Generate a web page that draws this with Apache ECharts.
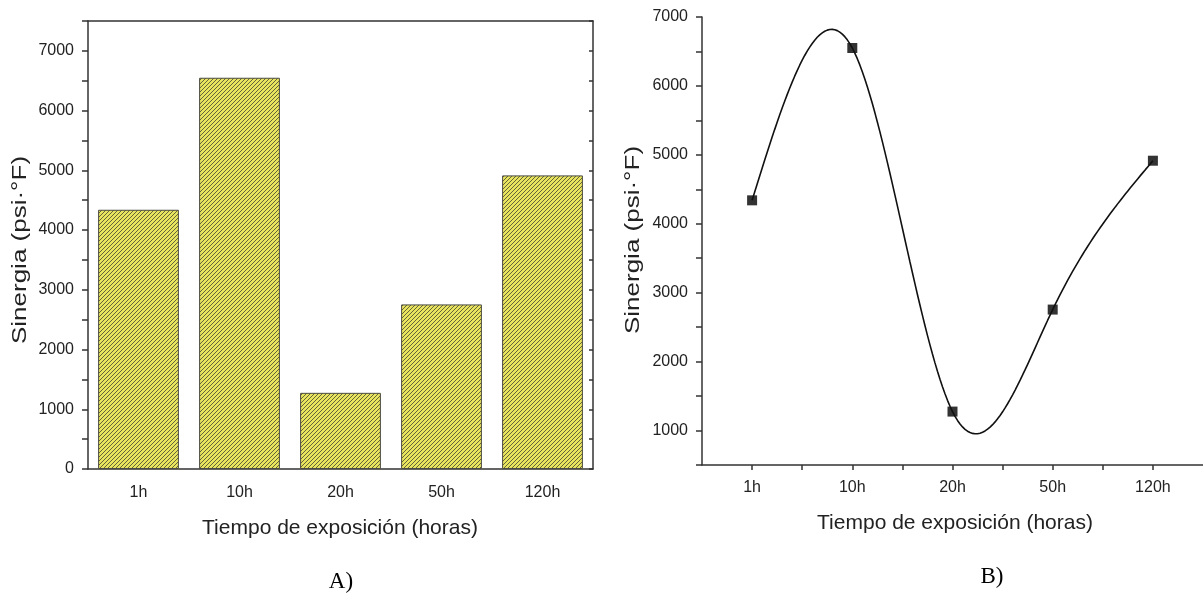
<!DOCTYPE html>
<html>
<head>
<meta charset="utf-8">
<script src="https://cdn.jsdelivr.net/npm/echarts@6/dist/echarts.min.js"></script>
<style>
  html, body { margin: 0; padding: 0; background: #fff; }
  #chart { width: 1203px; height: 597px; }
</style>
</head>
<body>
<div id="chart"></div>
<script>
// ---- data ----
const categories = ['1h', '10h', '20h', '50h', '120h'];
const sinergia = [4340, 6550, 1275, 2755, 4915];
const yTickLabelsA = [0, 1000, 2000, 3000, 4000, 5000, 6000, 7000];
const yTickLabelsB = [1000, 2000, 3000, 4000, 5000, 6000, 7000];
const yTitle = 'Sinergia (psi·°F)';
const xTitle = 'Tiempo de exposición (horas)';
const panelLabels = ['A)', 'B)'];

// ---- hatch pattern for bars ----
function hatch() {
  const s = 4;
  const c = document.createElement('canvas');
  c.width = s; c.height = s;
  const g = c.getContext('2d');
  g.fillStyle = '#e9e45e';
  g.fillRect(0, 0, s, s);
  g.strokeStyle = '#5e5c36';
  g.lineWidth = 0.95;
  g.beginPath();
  g.moveTo(-1, s + 1); g.lineTo(s + 1, -1);
  g.moveTo(-1, 1); g.lineTo(1, -1);
  g.moveTo(s - 1, s + 1); g.lineTo(s + 1, s - 1);
  g.stroke();
  return c;
}

// ---- natural cubic spline through the data (x = 1..n) ----
function naturalSpline(ys, steps) {
  const n = ys.length;
  const M = new Array(n).fill(0);
  const a = [], b = [], cc = [], d = [];
  for (let i = 1; i < n - 1; i++) {
    a.push(1); b.push(4); cc.push(1);
    d.push(6 * (ys[i + 1] - 2 * ys[i] + ys[i - 1]));
  }
  const m = d.length;
  for (let i = 1; i < m; i++) {
    const w = a[i] / b[i - 1];
    b[i] -= w * cc[i - 1];
    d[i] -= w * d[i - 1];
  }
  const sol = new Array(m);
  sol[m - 1] = d[m - 1] / b[m - 1];
  for (let i = m - 2; i >= 0; i--) sol[i] = (d[i] - cc[i] * sol[i + 1]) / b[i];
  for (let i = 0; i < m; i++) M[i + 1] = sol[i];
  const pts = [];
  for (let i = 0; i < n - 1; i++) {
    for (let k = 0; k < steps; k++) {
      const t = k / steps;
      const u = 1 - t;
      const v = ys[i] * u + ys[i + 1] * t + ((u * u * u - u) * M[i] + (t * t * t - t) * M[i + 1]) / 6;
      pts.push([i + 1 + t, v]);
    }
  }
  pts.push([n, ys[n - 1]]);
  return pts;
}

const chart = echarts.init(document.getElementById('chart'), null, { renderer: 'canvas' });
const font = 'Liberation Sans, Arial, sans-serif';
const axisCol = '#333';
const txtCol = '#222';

const option = {
  animation: false,
  backgroundColor: '#fff',
  grid: [
    { left: 88, right: 610, top: 21, bottom: 128 },
    { left: 702, width: 507, top: 17, bottom: 132 }
  ],
  xAxis: [
    {
      type: 'category', gridIndex: 0, data: categories, position: 'bottom',
      axisLine: { lineStyle: { color: axisCol, width: 1.5 } },
      axisTick: { alignWithLabel: true, length: 6, lineStyle: { color: axisCol, width: 1.5 } },
      axisLabel: { color: txtCol, fontFamily: font, fontSize: 16, margin: 16 },
      splitLine: { show: false }
    },
    {
      type: 'category', gridIndex: 0, data: categories, position: 'bottom',
      axisLine: { show: false },
      axisTick: { length: 4, lineStyle: { color: axisCol, width: 1.5 } },
      axisLabel: { show: false }, splitLine: { show: false }
    },
    {
      type: 'category', gridIndex: 0, data: categories, position: 'top',
      axisLine: { lineStyle: { color: axisCol, width: 1.5 } },
      axisTick: { inside: true, length: 4, lineStyle: { color: axisCol, width: 1.5 } },
      axisLabel: { show: false }, splitLine: { show: false }
    },
    {
      type: 'value', gridIndex: 1, min: 0.5, max: 5.5, interval: 0.5,
      axisLine: { show: true, onZero: false, lineStyle: { color: axisCol, width: 1.5 } },
      axisTick: { show: true, length: 5, lineStyle: { color: axisCol, width: 1.5 } },
      axisLabel: {
        color: txtCol, fontFamily: font, fontSize: 16, margin: 15,
        showMinLabel: false, showMaxLabel: false,
        formatter: v => (Number.isInteger(v) && v >= 1 && v <= categories.length) ? categories[v - 1] : ''
      },
      splitLine: { show: false }
    }
  ],
  yAxis: [
    {
      type: 'value', gridIndex: 0, min: 0, max: 7500, interval: 500, position: 'left',
      axisLine: { show: true, lineStyle: { color: axisCol, width: 1.5 } },
      axisTick: { show: true, length: 6, lineStyle: { color: axisCol, width: 1.5 } },
      axisLabel: {
        color: txtCol, fontFamily: font, fontSize: 16, margin: 14,
        formatter: v => yTickLabelsA.includes(v) ? String(v) : ''
      },
      splitLine: { show: false }
    },
    {
      type: 'value', gridIndex: 0, min: 0, max: 7500, interval: 500, position: 'right',
      axisLine: { show: true, lineStyle: { color: axisCol, width: 1.5 } },
      axisTick: { show: true, inside: true, length: 4, lineStyle: { color: axisCol, width: 1.5 } },
      axisLabel: { show: false }, splitLine: { show: false }
    },
    {
      type: 'value', gridIndex: 1, min: 500, max: 7000, interval: 500,
      axisLine: { show: true, lineStyle: { color: axisCol, width: 1.5 } },
      axisTick: { show: true, length: 6, lineStyle: { color: axisCol, width: 1.5 } },
      axisLabel: {
        color: txtCol, fontFamily: font, fontSize: 16, margin: 14,
        formatter: v => yTickLabelsB.includes(v) ? String(v) : ''
      },
      splitLine: { show: false }
    }
  ],
  series: [
    {
      type: 'bar', xAxisIndex: 0, yAxisIndex: 0, data: sinergia,
      barCategoryGap: '20%',
      itemStyle: {
        color: { image: hatch(), repeat: 'repeat' },
        borderColor: '#4a4a40', borderWidth: 1
      }
    },
    {
      type: 'line', xAxisIndex: 3, yAxisIndex: 2,
      data: naturalSpline(sinergia, 40),
      showSymbol: false, symbol: 'none', smooth: false,
      lineStyle: { color: '#111', width: 1.6 }
    },
    {
      type: 'scatter', xAxisIndex: 3, yAxisIndex: 2,
      data: sinergia.map((v, i) => [i + 1, v]),
      symbol: 'rect', symbolSize: 10,
      itemStyle: { color: '#000' }
    }
  ],
  graphic: [
    { type: 'text', x: 20, y: 250, rotation: Math.PI / 2, scaleX: 1.3,
      style: { text: yTitle, font: '20px ' + font, fill: txtCol, align: 'center', verticalAlign: 'middle' } },
    { type: 'text', x: 340, y: 528,
      style: { text: xTitle, font: '21px ' + font, fill: txtCol, align: 'center', verticalAlign: 'middle' } },
    { type: 'text', x: 633, y: 240, rotation: Math.PI / 2, scaleX: 1.3,
      style: { text: yTitle, font: '20px ' + font, fill: txtCol, align: 'center', verticalAlign: 'middle' } },
    { type: 'text', x: 955, y: 523,
      style: { text: xTitle, font: '21px ' + font, fill: txtCol, align: 'center', verticalAlign: 'middle' } },
    { type: 'text', x: 341, y: 582,
      style: { text: panelLabels[0], font: '23px Liberation Serif, Times New Roman, serif', fill: '#000', align: 'center', verticalAlign: 'middle' } },
    { type: 'text', x: 992, y: 577,
      style: { text: panelLabels[1], font: '23px Liberation Serif, Times New Roman, serif', fill: '#000', align: 'center', verticalAlign: 'middle' } }
  ]
};
chart.setOption(option);
</script>
</body>
</html>
